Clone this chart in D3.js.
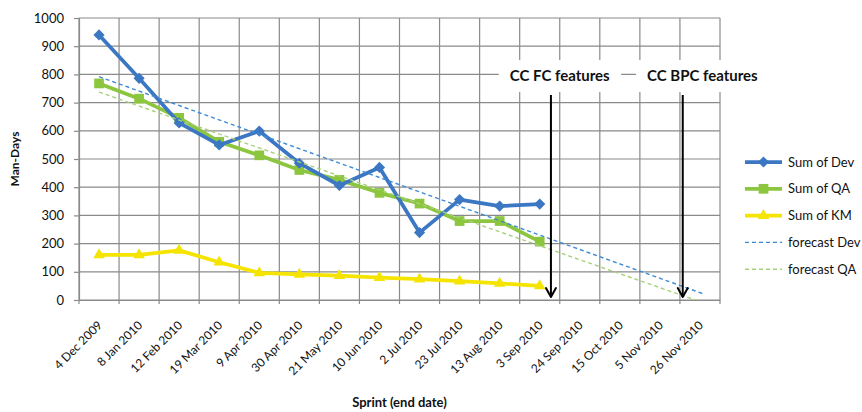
<!DOCTYPE html>
<html>
<head>
<meta charset="utf-8">
<script src="https://cdn.jsdelivr.net/npm/d3@7/dist/d3.min.js"></script>
<style>
  html, body { margin: 0; padding: 0; background: #fff; }
  svg { display: block; font-family: Lato, "Open Sans", sans-serif; }
</style>
</head>
<body>
<svg id="chart" width="862" height="412"></svg>
<script>
// Sprint end dates (category axis)
const categories = [
  "4 Dec 2009", "8 Jan 2010", "12 Feb 2010", "19 Mar 2010", "9 Apr 2010",
  "30 Apr 2010", "21 May 2010", "10 Jun 2010", "2 Jul 2010", "23 Jul 2010",
  "13 Aug 2010", "3 Sep 2010", "24 Sep 2010", "15 Oct 2010", "5 Nov 2010",
  "26 Nov 2010"
];

// Remaining effort per sprint (man-days)
const devValues = [940, 786, 628, 550, 599, 485, 406, 470, 239, 356, 333, 340];
const qaValues  = [768, 714, 646, 561, 513, 461, 426, 380, 342, 280, 280, 207];
const kmValues  = [160, 160, 176, 134, 96, 91, 86, 79, 74, 67, 59, 50];

const yTicks = [0, 100, 200, 300, 400, 500, 600, 700, 800, 900, 1000];

// Linear trend lines are projected forward to this category position
const forecastUntil = 15.07;

// Milestone markers: category position of the arrow, label centre, top value
const milestones = [
  { label: "CC FC features",  at: 11.28, labelAt: 11.5,  top: 727, labelValue: 794 },
  { label: "CC BPC features", at: 14.57, labelAt: 15.06, top: 727, labelValue: 794 }
];

const svg = d3.select("#chart");
const plot = { left: 79, right: 720, top: 18, bottom: 300 };

const x = d3.scaleBand().domain(categories).range([plot.left, plot.right]);
const bw = x.bandwidth();
// continuous position by category index (centre of band i)
const xi = d3.scaleLinear().domain([0, 1]).range([plot.left + bw / 2, plot.left + bw * 1.5]);
const y = d3.scaleLinear().domain([0, 1000]).range([plot.bottom, plot.top]);

const gridColor = "#8a8a8a";

// Gridlines
const grid = svg.append("g");
grid.selectAll("line.h").data(yTicks).join("line")
  .attr("x1", plot.left).attr("x2", plot.right)
  .attr("y1", d => y(d)).attr("y2", d => y(d))
  .attr("stroke", gridColor).attr("stroke-width", 1.2);
const edges = d3.range(categories.length + 1).map(i => plot.left + i * bw);
grid.selectAll("line.v").data(edges).join("line")
  .attr("x1", d => d).attr("x2", d => d)
  .attr("y1", plot.top).attr("y2", plot.bottom + 4)
  .attr("stroke", gridColor).attr("stroke-width", 1.2);

// Y axis
const yAxis = svg.append("g")
  .attr("transform", `translate(${plot.left},0)`)
  .call(d3.axisLeft(y).tickValues(yTicks).tickFormat(d3.format("d")).tickSize(5).tickPadding(10));
yAxis.select(".domain").attr("stroke", gridColor).attr("stroke-width", 1.2);
yAxis.selectAll(".tick line").attr("stroke", gridColor).attr("stroke-width", 1.2);
yAxis.selectAll(".tick text")
  .attr("font-family", "Lato, sans-serif").attr("font-size", 13).attr("fill", "#111");

// X axis
const xAxis = svg.append("g")
  .attr("transform", `translate(0,${plot.bottom})`)
  .call(d3.axisBottom(x).tickSize(0).tickSizeOuter(0));
xAxis.select(".domain").attr("stroke", gridColor).attr("stroke-width", 1.2);
xAxis.selectAll(".tick text")
  .attr("font-family", "Lato, sans-serif").attr("font-size", 12).attr("fill", "#111")
  .attr("text-anchor", "end")
  .attr("dy", 0).attr("y", 0)
  .attr("transform", "translate(4,26) rotate(-45)");

// Axis titles
svg.append("text")
  .attr("x", (plot.left + plot.right) / 2).attr("y", 407)
  .attr("text-anchor", "middle").attr("font-weight", 700).attr("font-size", 13)
  .attr("fill", "#111").text("Sprint (end date)");
svg.append("text")
  .attr("transform", `translate(19,${(plot.top + plot.bottom) / 2}) rotate(-90)`)
  .attr("text-anchor", "middle").attr("font-weight", 700).attr("font-size", 12)
  .attr("fill", "#111").text("Man-Days");

// Clip for trend lines
svg.append("clipPath").attr("id", "plotClip").append("rect")
  .attr("x", plot.left).attr("y", plot.top)
  .attr("width", plot.right - plot.left).attr("height", plot.bottom - plot.top);

// Least-squares trend of a series against category index
function trend(values) {
  const n = values.length;
  const mx = d3.mean(d3.range(n));
  const my = d3.mean(values);
  let sxy = 0, sxx = 0;
  values.forEach((v, i) => { sxy += (i - mx) * (v - my); sxx += (i - mx) * (i - mx); });
  const slope = sxy / sxx;
  const icpt = my - slope * mx;
  return [[0, icpt], [forecastUntil, icpt + slope * forecastUntil]];
}

const series = [
  { name: "Sum of Dev", values: devValues, color: "#3b77c2", marker: "diamond" },
  { name: "Sum of QA",  values: qaValues,  color: "#8cc63f", marker: "square" },
  { name: "Sum of KM",  values: kmValues,  color: "#f5e400", marker: "triangle" }
];
const forecasts = [
  { name: "forecast Dev", values: devValues, color: "#3d8ad6" },
  { name: "forecast QA",  values: qaValues,  color: "#a7d07a" }
];

const markerPath = {
  diamond: d3.symbol().type(d3.symbolDiamond2).size(80)(),
  square: d3.symbol().type(d3.symbolSquare2).size(120)(),
  triangle: d3.symbol().type(d3.symbolTriangle2).size(95)()
};

const line = d3.line().x(d => xi(d[0])).y(d => y(d[1]));

// Series lines and markers (KM first so Dev sits on top)
[series[2], series[1], series[0]].forEach(s => {
  const pts = s.values.map((v, i) => [i, v]);
  svg.append("path").datum(pts)
    .attr("d", line).attr("fill", "none")
    .attr("stroke", s.color).attr("stroke-width", 3.75)
    .attr("stroke-linejoin", "round");
  svg.append("g").selectAll("path").data(pts).join("path")
    .attr("d", markerPath[s.marker])
    .attr("transform", d => `translate(${xi(d[0])},${y(d[1])})`)
    .attr("fill", s.color);
});

// Forecast trend lines
forecasts.forEach(f => {
  svg.append("path").datum(trend(f.values))
    .attr("d", line).attr("fill", "none")
    .attr("clip-path", "url(#plotClip)")
    .attr("stroke", f.color).attr("stroke-width", 1.4)
    .attr("stroke-dasharray", "4,3");
});

// Milestone labels and arrows
milestones.forEach(m => {
  const g = svg.append("g");
  const t = g.append("text")
    .attr("x", xi(m.labelAt)).attr("y", y(m.labelValue))
    .attr("dy", "0.35em").attr("text-anchor", "middle")
    .attr("font-weight", 700).attr("font-size", 15).attr("fill", "#111")
    .text(m.label);
  const bb = t.node().getBBox();
  g.insert("rect", "text")
    .attr("x", bb.x - 11).attr("y", y(m.labelValue) - 16)
    .attr("width", bb.width + 22).attr("height", 32)
    .attr("fill", "#fff");
  const ax = xi(m.at);
  g.append("line")
    .attr("x1", ax).attr("x2", ax)
    .attr("y1", y(m.top)).attr("y2", y(0) - 3)
    .attr("stroke", "#000").attr("stroke-width", 2);
  g.append("path")
    .attr("d", `M${ax - 5},${y(0) - 12} L${ax},${y(0) - 3} L${ax + 5},${y(0) - 12}`)
    .attr("fill", "none").attr("stroke", "#000").attr("stroke-width", 2)
    .attr("stroke-linecap", "round").attr("stroke-linejoin", "round");
});

// Legend
const legendItems = [
  { name: "Sum of Dev", color: "#3b77c2", marker: "diamond", dashed: false },
  { name: "Sum of QA", color: "#8cc63f", marker: "square", dashed: false },
  { name: "Sum of KM", color: "#f5e400", marker: "triangle", dashed: false },
  { name: "forecast Dev", color: "#3d8ad6", marker: null, dashed: true },
  { name: "forecast QA", color: "#a7d07a", marker: null, dashed: true }
];
const legend = svg.append("g").attr("transform", "translate(745,162)");
const rows = legend.selectAll("g").data(legendItems).join("g")
  .attr("transform", (d, i) => `translate(0,${i * 26.8})`);
rows.append("line")
  .attr("x1", 0).attr("x2", 37).attr("y1", 0).attr("y2", 0)
  .attr("stroke", d => d.color)
  .attr("stroke-width", d => d.dashed ? 1.4 : 3.75)
  .attr("stroke-dasharray", d => d.dashed ? "4,3" : null);
rows.filter(d => d.marker).append("path")
  .attr("d", d => markerPath[d.marker])
  .attr("transform", "translate(18.5,0)")
  .attr("fill", d => d.color);
rows.append("text")
  .attr("x", 43).attr("y", 0).attr("dy", "0.35em")
  .attr("font-size", 13).attr("fill", "#111")
  .text(d => d.name);
</script>
</body>
</html>
